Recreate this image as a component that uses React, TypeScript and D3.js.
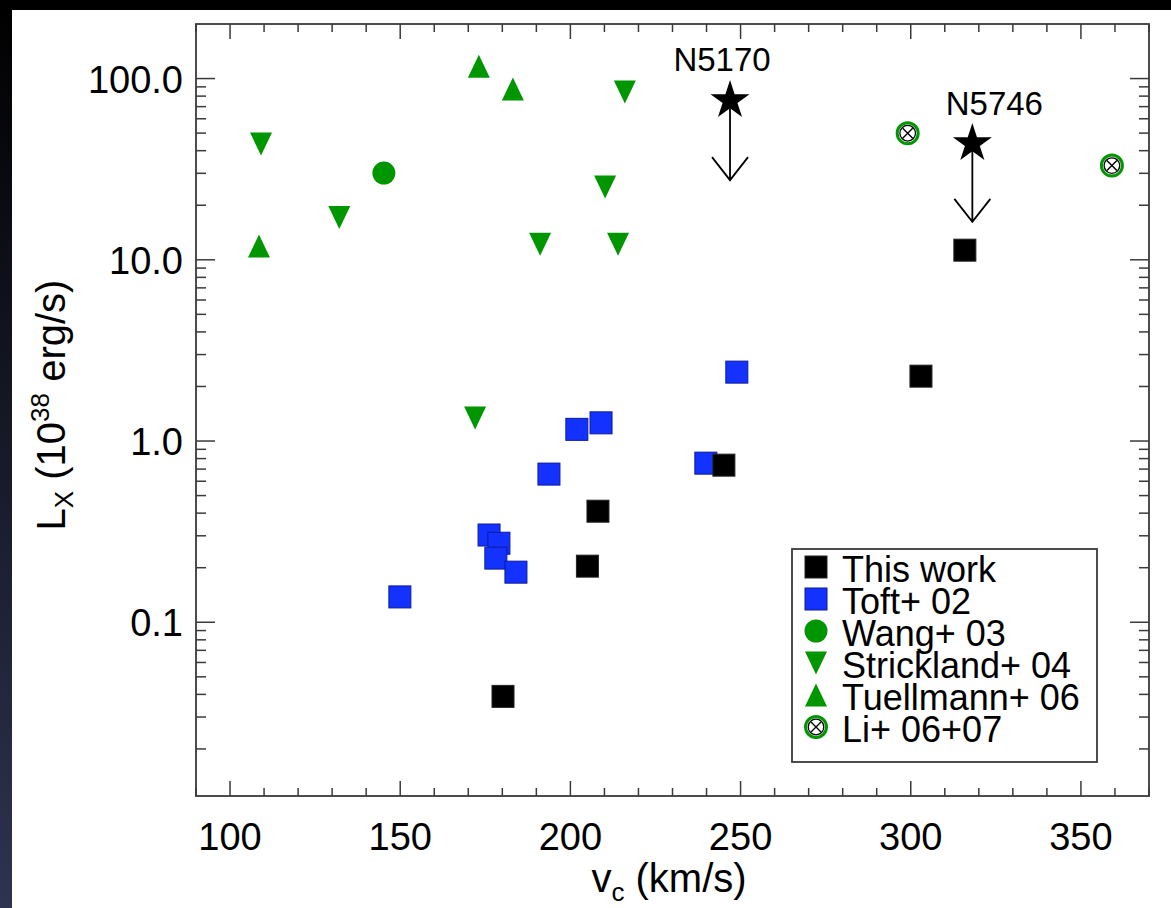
import React from 'react';
import * as d3 from 'd3';

// This work (black squares)
const thisWorkV = [315.9, 303.0, 245.1, 208.1, 205.0, 180.2];
const thisWorkL = [11.3, 2.28, 0.736, 0.41, 0.204, 0.039];

// Toft+ 02 (blue squares)
const toftV = [149.9, 176.1, 179.0, 178.1, 184.0, 193.7, 201.9, 209.0, 239.8, 248.9];
const toftL = [0.138, 0.303, 0.273, 0.226, 0.189, 0.657, 1.16, 1.26, 0.755, 2.40];

// Wang+ 03 (green circle)
const wangV = [145.2];
const wangL = [30.1];

// Strickland+ 04 (green down triangles)
const stricklandV = [109.1, 132.1, 191.1, 214.0, 210.2, 216.0, 172.0];
const stricklandL = [43.5, 17.1, 12.2, 12.2, 25.2, 84.3, 1.34];

// Tuellmann+ 06 (green up triangles)
const tuellmannV = [108.5, 173.1, 183.1];
const tuellmannL = [11.9, 117, 87.5];

// Li+ 06+07 (circled crosses)
const liV = [299.1, 359.1];
const liL = [49.9, 33.1];

// upper limits (stars with arrows)
const limitNames = ['N5170', 'N5746'];
const limitV = [246.9, 318.1];
const limitL = [75.7, 43.8];
const limitArrowTo = [27.5, 16.2];

const xMajor = [100, 150, 200, 250, 300, 350];
const xLabels = ['100', '150', '200', '250', '300', '350'];
const yMajor = [0.1, 1, 10, 100];
const yLabels = ['0.1', '1.0', '10.0', '100.0'];

const legendNames = ['This work', 'Toft+ 02', 'Wang+ 03', 'Strickland+ 04', 'Tuellmann+ 06', 'Li+ 06+07'];

const W = 1171;
const H = 908;
const left = 196, right = 1149, top = 24, bottom = 796;
const green = '#009600';
const blue = '#1432ff';
const frameColor = '#3a3a3a';
const font = '"Liberation Sans", Arial, Helvetica, sans-serif';

const x = d3.scaleLinear().domain([90, 370]).range([left, right]);
const y = d3.scaleLog().domain([0.011, 200]).range([bottom, top]);

const xMinor = d3.range(90, 371, 10).filter(v => v % 50 !== 0);
const yMinor: number[] = [];
[0.01, 0.1, 1, 10, 100].forEach(dec => {
  for (let k = 2; k <= 9; k++) {
    const v = dec * k;
    if (v > 0.011 && v < 200) yMinor.push(v);
  }
});

const starPath = d3.symbol(d3.symbolStar, 472)() as string;

function Square({ cx, cy, fill, stroke }: { cx: number; cy: number; fill: string; stroke: string }) {
  return <rect x={cx - 11} y={cy - 11} width={22} height={22} fill={fill} stroke={stroke} strokeWidth={1} />;
}

function DownTri({ cx, cy }: { cx: number; cy: number }) {
  const d = `M${cx - 11},${cy - 11.5}L${cx + 11},${cy - 11.5}L${cx},${cy + 11.5}Z`;
  return <path d={d} fill={green} />;
}

function UpTri({ cx, cy }: { cx: number; cy: number }) {
  const d = `M${cx - 11},${cy + 11.5}L${cx + 11},${cy + 11.5}L${cx},${cy - 11.5}Z`;
  return <path d={d} fill={green} />;
}

function Dot({ cx, cy }: { cx: number; cy: number }) {
  return <circle cx={cx} cy={cy} r={11.5} fill={green} />;
}

function Otimes({ cx, cy }: { cx: number; cy: number }) {
  const a = 5;
  return (
    <g>
      <circle cx={cx} cy={cy} r={10.5} fill="none" stroke={green} strokeWidth={3} />
      <circle cx={cx} cy={cy} r={7.8} fill="none" stroke="#000" strokeWidth={1.3} />
      <path d={`M${cx - a},${cy - a}L${cx + a},${cy + a}M${cx - a},${cy + a}L${cx + a},${cy - a}`} stroke="#000" strokeWidth={1.4} />
    </g>
  );
}

function legendMarker(i: number, cx: number, cy: number) {
  if (i === 0) return <Square cx={cx} cy={cy} fill="#000" stroke="#222" />;
  if (i === 1) return <Square cx={cx} cy={cy} fill={blue} stroke="#0a1a99" />;
  if (i === 2) return <Dot cx={cx} cy={cy} />;
  if (i === 3) return <DownTri cx={cx} cy={cy} />;
  if (i === 4) return <UpTri cx={cx} cy={cy} />;
  return <Otimes cx={cx} cy={cy} />;
}

export default function App() {
  return (
    <svg width={W} height={H} style={{ position: 'absolute', left: 0, top: 0 }} fontFamily={font}>
      <defs>
        <linearGradient id="edge" x1="0" y1="0" x2="0" y2="1">
          <stop offset="0" stopColor="#000" />
          <stop offset="1" stopColor="#2e3350" />
        </linearGradient>
      </defs>
      <rect x={0} y={0} width={W} height={H} fill="url(#edge)" />
      <rect x={0} y={0} width={W} height={10} fill="#000" />
      <rect x={12} y={10} width={W - 12} height={H - 10} fill="#fff" />

      {/* ticks */}
      <g stroke={frameColor} strokeWidth={1.5}>
        {xMajor.map(v => (
          <g key={'xm' + v}>
            <line x1={x(v)} x2={x(v)} y1={bottom} y2={bottom - 15} />
            <line x1={x(v)} x2={x(v)} y1={top} y2={top + 15} />
          </g>
        ))}
        {xMinor.map(v => (
          <g key={'xn' + v}>
            <line x1={x(v)} x2={x(v)} y1={bottom} y2={bottom - 8} />
            <line x1={x(v)} x2={x(v)} y1={top} y2={top + 8} />
          </g>
        ))}
        {yMajor.map(v => (
          <g key={'ym' + v}>
            <line x1={left} x2={left + 19} y1={y(v)} y2={y(v)} />
            <line x1={right} x2={right - 19} y1={y(v)} y2={y(v)} />
          </g>
        ))}
        {yMinor.map(v => (
          <g key={'yn' + v}>
            <line x1={left} x2={left + 10} y1={y(v)} y2={y(v)} />
            <line x1={right} x2={right - 10} y1={y(v)} y2={y(v)} />
          </g>
        ))}
      </g>
      <rect x={left} y={top} width={right - left} height={bottom - top} fill="none" stroke={frameColor} strokeWidth={1.8} />

      {/* tick labels */}
      <g fontSize={38} fill="#000">
        {xMajor.map((v, i) => (
          <text key={'xl' + v} x={x(v)} y={850} textAnchor="middle">{xLabels[i]}</text>
        ))}
        {yMajor.map((v, i) => (
          <text key={'yl' + v} x={183} y={y(v) + 14} textAnchor="end">{yLabels[i]}</text>
        ))}
      </g>

      {/* axis titles */}
      <text x={669} y={892} fontSize={40} textAnchor="middle" fill="#000">
        v<tspan fontSize={26} dy={9}>c</tspan><tspan dy={-9}> (km/s)</tspan>
      </text>
      <text transform="translate(65,405) rotate(-90)" fontSize={40} textAnchor="middle" fill="#000">
        L<tspan fontSize={26} dy={8}>X</tspan><tspan dy={-8}> (10</tspan><tspan fontSize={26} dy={-16}>38</tspan><tspan dy={16}> erg/s)</tspan>
      </text>

      {/* data */}
      {stricklandV.map((v, i) => <DownTri key={'s' + i} cx={x(v)} cy={y(stricklandL[i])} />)}
      {tuellmannV.map((v, i) => <UpTri key={'t' + i} cx={x(v)} cy={y(tuellmannL[i])} />)}
      {wangV.map((v, i) => <Dot key={'w' + i} cx={x(v)} cy={y(wangL[i])} />)}
      {liV.map((v, i) => <Otimes key={'l' + i} cx={x(v)} cy={y(liL[i])} />)}
      {toftV.map((v, i) => <Square key={'tf' + i} cx={x(v)} cy={y(toftL[i])} fill={blue} stroke="#0a1a99" />)}
      {thisWorkV.map((v, i) => <Square key={'tw' + i} cx={x(v)} cy={y(thisWorkL[i])} fill="#000" stroke="#222" />)}

      {/* upper limits */}
      {limitV.map((v, i) => {
        const cx = x(v), cy = y(limitL[i]), ey = y(limitArrowTo[i]);
        return (
          <g key={'lim' + i}>
            <path d={`M${cx},${cy}L${cx},${ey}M${cx - 18},${ey - 23}L${cx},${ey}L${cx + 18},${ey - 23}`} fill="none" stroke="#000" strokeWidth={1.8} />
            <path d={starPath} transform={`translate(${cx},${cy})`} fill="#000" />
            <text x={cx + (i === 0 ? -8 : 22)} y={cy - 29} fontSize={33} textAnchor="middle" fill="#000">{limitNames[i]}</text>
          </g>
        );
      })}

      {/* legend */}
      <rect x={792} y={549} width={305} height={213} fill="#fff" stroke={frameColor} strokeWidth={1.8} />
      {legendNames.map((name, i) => (
        <g key={name}>
          {legendMarker(i, 816, 567 + i * 32)}
          <text x={842} y={582 + i * 32} fontSize={36} fill="#000">{name}</text>
        </g>
      ))}
    </svg>
  );
}
